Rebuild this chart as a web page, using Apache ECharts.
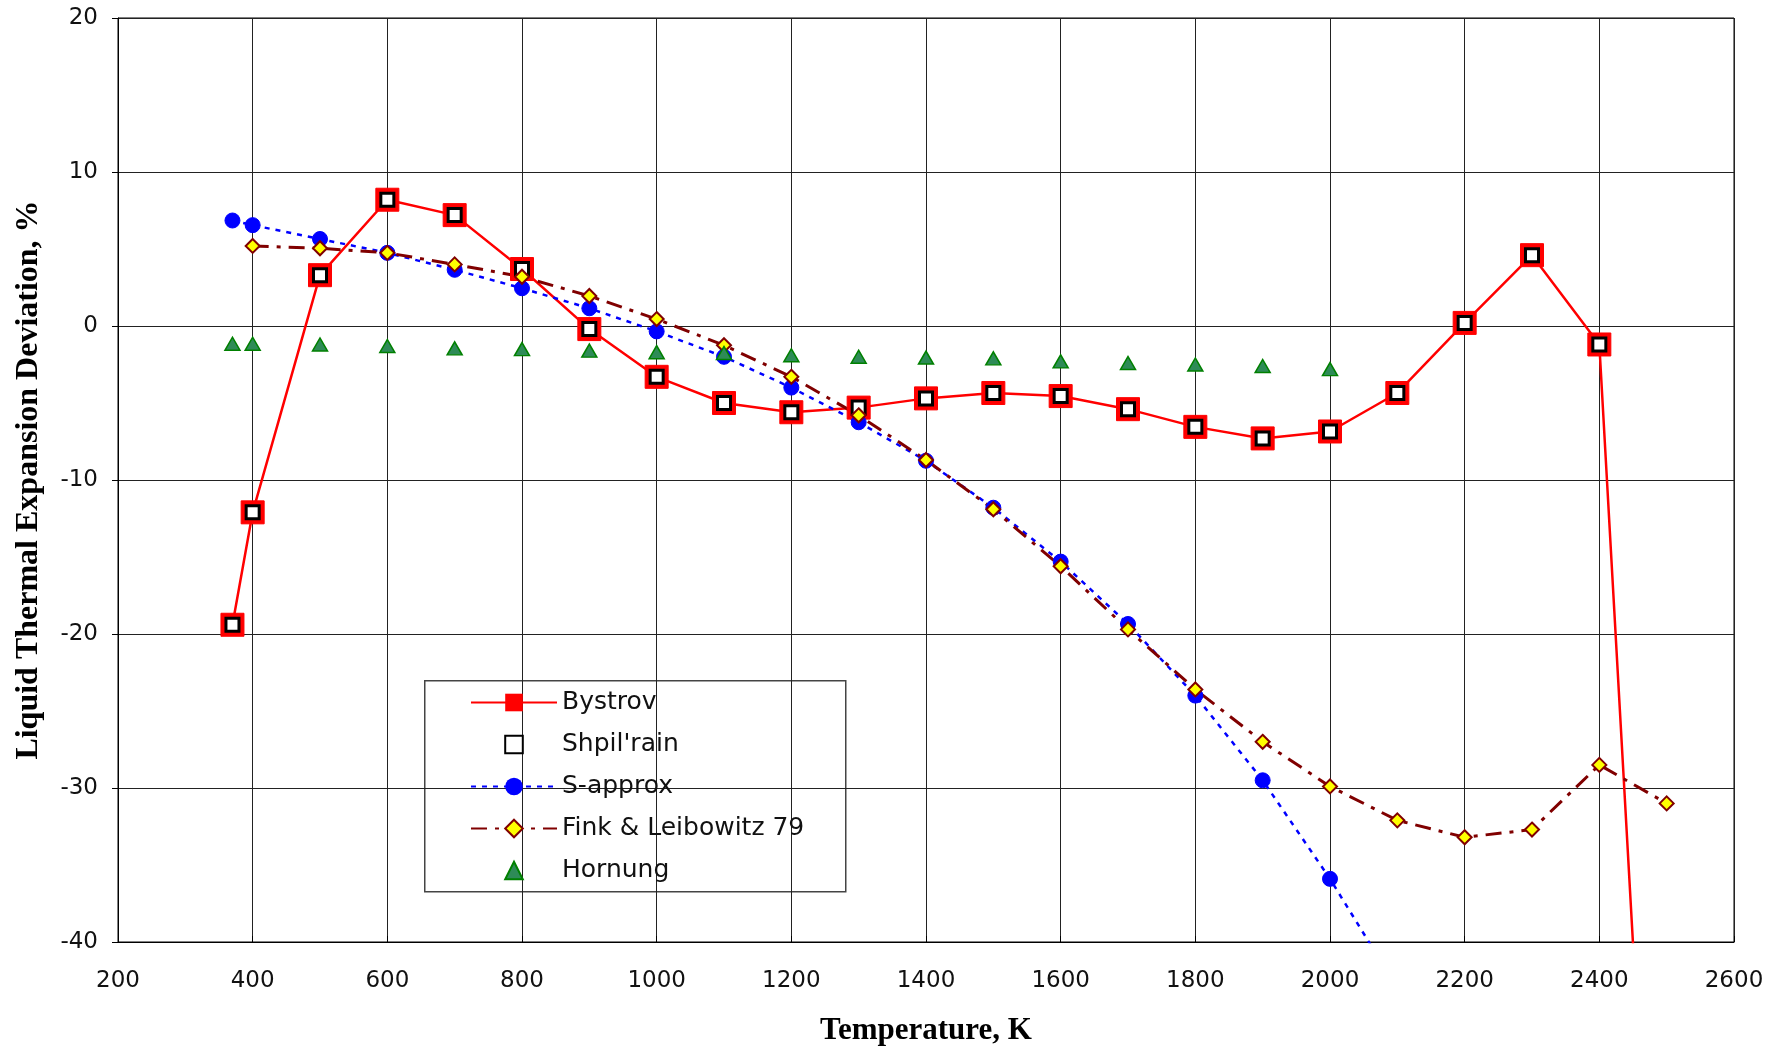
<!DOCTYPE html>
<html>
<head>
<meta charset="utf-8">
<script src="https://cdn.jsdelivr.net/npm/echarts@6/dist/echarts.min.js"></script>
<style>
html,body{margin:0;padding:0;background:#fff;}
#chart{width:1786px;height:1052px;}
</style>
</head>
<body>
<div id="chart"></div>
<script>
// ---- data ----
const bystrovT = [370, 400, 500, 600, 700, 800, 900, 1000, 1100, 1200, 1300, 1400, 1500, 1600, 1700, 1800, 1900, 2000, 2100, 2200, 2300, 2400, 2500];
const bystrovV = [-19.4, -12.1, 3.3, 8.2, 7.2, 3.7, -0.2, -3.3, -5.0, -5.6, -5.3, -4.7, -4.35, -4.55, -5.4, -6.55, -7.3, -6.85, -4.35, 0.2, 4.6, -1.2, -79];
const shpilT = [370, 400, 500, 600, 700, 800, 900, 1000, 1100, 1200, 1300, 1400, 1500, 1600, 1700, 1800, 1900, 2000, 2100, 2200, 2300, 2400];
const shpilV = [-19.4, -12.1, 3.3, 8.2, 7.2, 3.7, -0.2, -3.3, -5.0, -5.6, -5.3, -4.7, -4.35, -4.55, -5.4, -6.55, -7.3, -6.85, -4.35, 0.2, 4.6, -1.2];
const sapproxT = [370, 400, 500, 600, 700, 800, 900, 1000, 1100, 1200, 1300, 1400, 1500, 1600, 1700, 1800, 1900, 2000, 2100];
const sapproxV = [6.85, 6.55, 5.65, 4.75, 3.65, 2.45, 1.15, -0.35, -2.0, -4.0, -6.25, -8.75, -11.8, -15.3, -19.35, -24.0, -29.5, -35.9, -43.0];
const finkT = [400, 500, 600, 700, 800, 900, 1000, 1100, 1200, 1300, 1400, 1500, 1600, 1700, 1800, 1900, 2000, 2100, 2200, 2300, 2400, 2500];
const finkV = [5.2, 5.05, 4.75, 4.0, 3.2, 1.95, 0.45, -1.25, -3.3, -5.8, -8.7, -11.9, -15.6, -19.7, -23.6, -27.0, -29.9, -32.1, -33.2, -32.7, -28.5, -31.0];
const hornungT = [370, 400, 500, 600, 700, 800, 900, 1000, 1100, 1200, 1300, 1400, 1500, 1600, 1700, 1800, 1900, 2000];
const hornungV = [-1.15, -1.15, -1.2, -1.3, -1.45, -1.5, -1.6, -1.7, -1.75, -1.9, -2.0, -2.05, -2.1, -2.3, -2.4, -2.5, -2.6, -2.8];
const seriesNames = ['Bystrov', "Shpil'rain", 'S-approx', 'Fink & Leibowitz 79', 'Hornung'];
const xTitle = 'Temperature, K';
const yTitle = 'Liquid Thermal Expansion Deviation, %';

function pairs(xs, ys) { return xs.map((x, i) => [x, ys[i]]); }

const chart = echarts.init(document.getElementById('chart'));
const labelFont = 'DejaVu Sans';
const plain = v => String(v);
chart.setOption({
  animation: false,
  backgroundColor: '#fff',
  grid: {
    left: 118, right: 52, top: 18, bottom: 110,
    show: true, borderColor: '#000', borderWidth: 1,
    containLabel: false, outerBoundsMode: 'none'
  },
  xAxis: {
    type: 'value', min: 200, max: 2600, interval: 200,
    name: xTitle, nameLocation: 'middle', nameGap: 73,
    nameTextStyle: { fontFamily: 'Liberation Serif', fontWeight: 'bold', fontSize: 31, color: '#000' },
    axisLine: { show: true, onZero: false, lineStyle: { color: '#000', width: 1 } },
    axisTick: { show: true, inside: true, length: 6, lineStyle: { color: '#000' } },
    axisLabel: { margin: 28, fontFamily: labelFont, fontSize: 23, color: '#111', formatter: plain },
    splitLine: { show: true, lineStyle: { color: '#222', width: 1 } }
  },
  yAxis: {
    type: 'value', min: -40, max: 20, interval: 10,
    name: yTitle, nameLocation: 'middle', nameGap: 73,
    nameTextStyle: { fontFamily: 'Liberation Serif', fontWeight: 'bold', fontSize: 32, color: '#000' },
    axisLine: { show: true, onZero: false, lineStyle: { color: '#000', width: 1 } },
    axisTick: { show: true, length: 6, lineStyle: { color: '#000' } },
    axisLabel: { margin: 20, fontFamily: labelFont, fontSize: 23, color: '#111', formatter: plain },
    splitLine: { show: true, lineStyle: { color: '#222', width: 1 } }
  },
  legend: {
    orient: 'vertical', left: 470, top: 690, padding: 0,
    itemWidth: 86, itemHeight: 22, itemGap: 17,
    textStyle: { fontFamily: labelFont, fontSize: 25, color: '#111' },
    data: seriesNames
  },
  graphic: [{
    type: 'rect', left: 424, top: 680, z: -1,
    shape: { width: 421, height: 211 },
    style: { fill: '#fff', stroke: '#444', lineWidth: 1.5 }
  }],
  series: [
    {
      name: seriesNames[0], type: 'line', data: pairs(bystrovT, bystrovV), clip: true,
      symbol: 'rect', symbolSize: 23,
      lineStyle: { color: '#ff0000', width: 2.5 },
      itemStyle: { color: '#ff0000', borderColor: '#ff0000' }
    },
    {
      name: seriesNames[1], type: 'line', data: pairs(shpilT, shpilV), clip: true,
      symbol: 'rect', symbolSize: 13,
      lineStyle: { opacity: 0, width: 0 },
      itemStyle: { color: '#ffffff', borderColor: '#000', borderWidth: 3 }
    },
    {
      name: seriesNames[2], type: 'line', data: pairs(sapproxT, sapproxV), clip: true,
      symbol: 'circle', symbolSize: 15,
      lineStyle: { color: '#0000ff', width: 2.5, type: [5, 6] },
      itemStyle: { color: '#0000ff', borderColor: '#0000ff' }
    },
    {
      name: seriesNames[3], type: 'line', data: pairs(finkT, finkV), clip: true,
      symbol: 'diamond', symbolSize: 14,
      lineStyle: { color: '#800000', width: 3, type: [16, 8, 4, 8] },
      itemStyle: { color: '#ffff00', borderColor: '#800000', borderWidth: 2 }
    },
    {
      name: seriesNames[4], type: 'line', data: pairs(hornungT, hornungV), clip: true,
      symbol: 'triangle', symbolSize: [15, 13],
      lineStyle: { opacity: 0, width: 0 },
      itemStyle: { color: '#2e8b57', borderColor: '#008000', borderWidth: 1.5 }
    }
  ]
});
</script>
</body>
</html>
